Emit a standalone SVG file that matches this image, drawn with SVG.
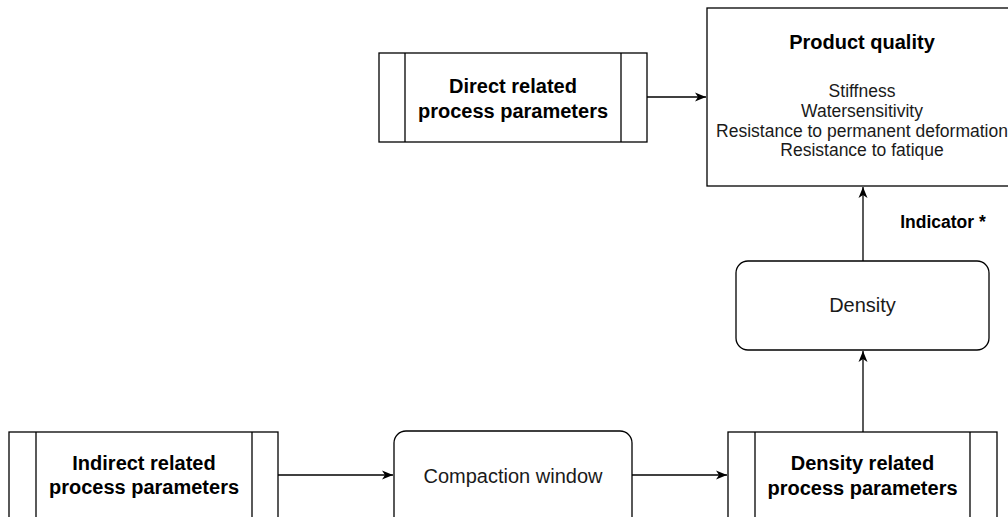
<svg xmlns="http://www.w3.org/2000/svg" width="1008" height="517" viewBox="0 0 1008 517">
  <style>
    .box { fill: #ffffff; stroke: #000000; stroke-width: 1.3; }
    .edge { fill: none; stroke: #000000; stroke-width: 1.3; }
    .bold { font-family: "Liberation Sans", Arial, sans-serif; font-weight: bold; fill: #000000; text-anchor: middle; }
    .reg { font-family: "Liberation Sans", Arial, sans-serif; fill: #1a1a1a; text-anchor: middle; }
  </style>
  <defs>
    <marker id="arrow" markerUnits="userSpaceOnUse" markerWidth="12" markerHeight="10" refX="11" refY="5" orient="auto">
      <path d="M0,0.5 L11,5 L0,9.5 L3,5 Z" fill="#000000"/>
    </marker>
  </defs>

  <!-- connectors -->
  <g id="connectors">
    <line class="edge" x1="647" y1="97" x2="706" y2="97" marker-end="url(#arrow)"/>
    <line class="edge" x1="863" y1="261" x2="863" y2="187" marker-end="url(#arrow)"/>
    <line class="edge" x1="863" y1="432" x2="863" y2="351" marker-end="url(#arrow)"/>
    <line class="edge" x1="278" y1="475" x2="393" y2="475" marker-end="url(#arrow)"/>
    <line class="edge" x1="632" y1="475" x2="727" y2="475" marker-end="url(#arrow)"/>
    <text class="bold" x="943" y="228" font-size="17.5">Indicator *</text>
  </g>

  <!-- direct related process parameters -->
  <g id="direct">
    <rect class="box" x="379" y="53" width="268" height="89"/>
    <line class="edge" x1="405" y1="53" x2="405" y2="142"/>
    <line class="edge" x1="621" y1="53" x2="621" y2="142"/>
    <text class="bold" x="513" y="93" font-size="20">Direct related</text>
    <text class="bold" x="513" y="118" font-size="20">process parameters</text>
  </g>

  <!-- product quality -->
  <g id="product">
    <rect class="box" x="707" y="8" width="310" height="178"/>
    <text class="bold" x="862" y="49" font-size="20">Product quality</text>
    <text class="reg" x="862" y="97" font-size="17.5">Stiffness</text>
    <text class="reg" x="862" y="117" font-size="17.5">Watersensitivity</text>
    <text class="reg" x="862" y="137" font-size="17.5">Resistance to permanent deformation</text>
    <text class="reg" x="862" y="156" font-size="17.5">Resistance to fatique</text>
  </g>

  <!-- density -->
  <g id="density">
    <rect class="box" x="736" y="261" width="253" height="89" rx="12" ry="12"/>
    <text class="reg" x="862.5" y="312" font-size="20">Density</text>
  </g>

  <!-- indirect related process parameters -->
  <g id="indirect">
    <rect class="box" x="9" y="432" width="269" height="100"/>
    <line class="edge" x1="36" y1="432" x2="36" y2="532"/>
    <line class="edge" x1="252" y1="432" x2="252" y2="532"/>
    <text class="bold" x="144" y="470" font-size="20">Indirect related</text>
    <text class="bold" x="144" y="494" font-size="20">process parameters</text>
  </g>

  <!-- compaction window -->
  <g id="compaction">
    <rect class="box" x="394" y="431" width="238" height="100" rx="12" ry="12"/>
    <text class="reg" x="513" y="483" font-size="20">Compaction window</text>
  </g>

  <!-- density related process parameters -->
  <g id="densityrelated">
    <rect class="box" x="728" y="432" width="269" height="100"/>
    <line class="edge" x1="755" y1="432" x2="755" y2="532"/>
    <line class="edge" x1="970" y1="432" x2="970" y2="532"/>
    <text class="bold" x="862.5" y="470" font-size="20">Density related</text>
    <text class="bold" x="862.5" y="495" font-size="20">process parameters</text>
  </g>
</svg>
